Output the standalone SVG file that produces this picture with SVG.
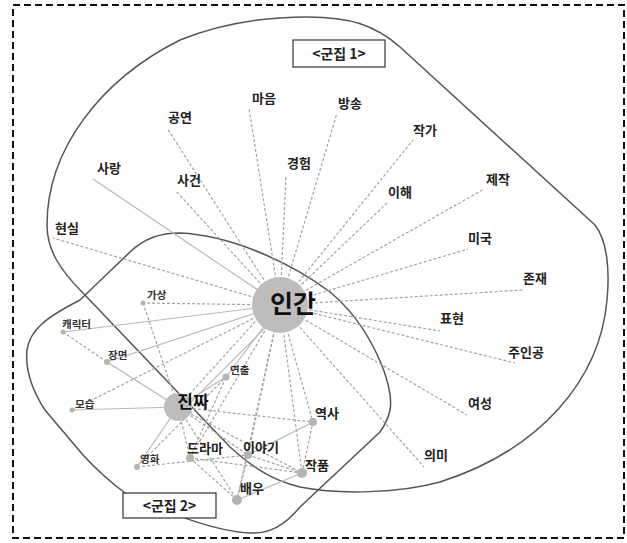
<svg xmlns="http://www.w3.org/2000/svg" width="627" height="543" viewBox="0 0 627 543">
<style>
text{font-family:"Noto Sans CJK KR","Noto Sans",sans-serif;fill:#222}
.lb{font-size:13px;font-weight:bold}
.sm{font-size:10.5px;font-weight:bold;fill:#333}
.md{font-size:13px;font-weight:bold}
.d{stroke:#a3a3a3;stroke-width:1.2;stroke-dasharray:3 2;fill:none}
.s{stroke:#b8b8b8;stroke-width:1.2;fill:none}
.dot{fill:#b4b4b4}
.hull{fill:none;stroke:#555;stroke-width:1.5}
.box{fill:#fff;stroke:#333;stroke-width:1.2}
</style>
<rect width="627" height="543" fill="#fff"/>
<rect x="13" y="5" width="611" height="533" fill="none" stroke="#111" stroke-width="2" stroke-dasharray="7 4"/>

<g id="hulls">
<path class="hull" d="M307,17 C350,17 375,25 400,47 L595,225 C607,240 610,270 607,300 C600,380 540,450 440,482 C400,493 340,495 300,487 C270,480 250,465 230,447 L83,293 C60,270 47,250 47,225 C47,150 100,80 180,40 C220,24 265,17 307,17 Z"/>
<path class="hull" d="M27,350 C30,330 45,318 80,300 L130,252 C145,238 160,233 180,233 C230,235 290,262 330,292 C370,325 395,385 390,410 C388,420 385,425 380,432 L300,507 C285,525 270,534 250,533 C220,532 170,515 125,493 C105,478 95,468 83,455 L45,410 C32,390 25,370 27,350 Z"/>
</g>

<g id="connectors">
<line class="d" x1="280" y1="305" x2="167" y2="128"/>
<line class="d" x1="280" y1="305" x2="249" y2="108"/>
<line class="d" x1="280" y1="305" x2="337" y2="113"/>
<line class="d" x1="280" y1="305" x2="413" y2="140"/>
<line class="d" x1="280" y1="305" x2="286" y2="175"/>
<line class="s" x1="280" y1="305" x2="93" y2="179"/>
<line class="d" x1="280" y1="305" x2="176" y2="191"/>
<line class="d" x1="280" y1="305" x2="387" y2="203"/>
<line class="d" x1="280" y1="305" x2="484" y2="189"/>
<line class="d" x1="280" y1="305" x2="53" y2="238"/>
<line class="d" x1="280" y1="305" x2="468" y2="249"/>
<line class="d" x1="280" y1="305" x2="523" y2="290"/>
<line class="d" x1="280" y1="305" x2="440" y2="331"/>
<line class="d" x1="280" y1="305" x2="515" y2="363"/>
<line class="d" x1="280" y1="305" x2="467" y2="415"/>
<line class="d" x1="280" y1="305" x2="424" y2="467"/>
<line class="d" x1="280" y1="305" x2="143" y2="303"/>
<line class="s" x1="280" y1="305" x2="63" y2="332"/>
<line class="s" x1="280" y1="305" x2="107" y2="362"/>
<line class="d" x1="280" y1="305" x2="72" y2="410"/>
<line class="s" x1="280" y1="305" x2="226" y2="377"/>
<line class="d" x1="272" y1="303" x2="178" y2="407"/>
<line class="s" x1="285" y1="308" x2="183" y2="410"/>
<line class="d" x1="280" y1="305" x2="190" y2="458"/>
<line class="d" x1="280" y1="305" x2="248" y2="455"/>
<line class="d" x1="280" y1="305" x2="237" y2="500"/>
<line class="d" x1="280" y1="305" x2="302" y2="473"/>
<line class="d" x1="280" y1="305" x2="313" y2="422"/>
<line class="d" x1="63" y1="332" x2="107" y2="362"/>
<line class="s" x1="107" y1="362" x2="178" y2="407"/>
<line class="s" x1="72" y1="410" x2="178" y2="407"/>
<line class="d" x1="143" y1="303" x2="178" y2="407"/>
<line class="s" x1="178" y1="407" x2="137" y2="467"/>
<line class="d" x1="178" y1="407" x2="190" y2="458"/>
<line class="d" x1="178" y1="407" x2="237" y2="500"/>
<line class="d" x1="178" y1="407" x2="248" y2="455"/>
<line class="d" x1="178" y1="407" x2="302" y2="473"/>
<line class="d" x1="178" y1="407" x2="313" y2="422"/>
<line class="s" x1="178" y1="407" x2="226" y2="377"/>
<line class="d" x1="137" y1="467" x2="248" y2="455"/>
<line class="d" x1="137" y1="467" x2="226" y2="377"/>
<line class="d" x1="190" y1="458" x2="226" y2="377"/>
<line class="d" x1="190" y1="458" x2="302" y2="473"/>
<line class="d" x1="190" y1="458" x2="237" y2="500"/>
<line class="d" x1="248" y1="455" x2="237" y2="500"/>
<line class="s" x1="248" y1="455" x2="313" y2="422"/>
<line class="d" x1="248" y1="455" x2="302" y2="473"/>
<line class="d" x1="302" y1="473" x2="313" y2="422"/>
<line class="s" x1="237" y1="500" x2="302" y2="473"/>
</g>

<g id="n-ingan"><circle cx="280" cy="305" r="28" fill="#bdbdbd"/><text x="293" y="313" text-anchor="middle" font-size="25" font-weight="bold" style="fill:#111">인간</text></g>
<g id="n-jinjja"><circle cx="178" cy="407" r="14" fill="#bdbdbd"/><text x="193" y="408" text-anchor="middle" font-size="17" font-weight="bold" style="fill:#111">진짜</text></g>

<g id="n-gongyeon"><text class="lb" x="168" y="122">공연</text></g>
<g id="n-maeum"><text class="lb" x="252" y="103">마음</text></g>
<g id="n-bangsong"><text class="lb" x="338" y="108">방송</text></g>
<g id="n-jakga"><text class="lb" x="413" y="135">작가</text></g>
<g id="n-gyeongheom"><text class="lb" x="287" y="168">경험</text></g>
<g id="n-sarang"><text class="lb" x="97" y="173">사랑</text></g>
<g id="n-sageon"><text class="lb" x="177" y="185">사건</text></g>
<g id="n-ihae"><text class="lb" x="388" y="197">이해</text></g>
<g id="n-jejak"><text class="lb" x="486" y="184">제작</text></g>
<g id="n-hyeonsil"><text class="lb" x="55" y="233">현실</text></g>
<g id="n-miguk"><text class="lb" x="468" y="243">미국</text></g>
<g id="n-jonjae"><text class="lb" x="523" y="283">존재</text></g>
<g id="n-pyohyeon"><text class="lb" x="440" y="323">표현</text></g>
<g id="n-juingong"><text class="lb" x="508" y="357">주인공</text></g>
<g id="n-yeoseong"><text class="lb" x="468" y="408">여성</text></g>
<g id="n-uimi"><text class="lb" x="424" y="460">의미</text></g>

<g id="n-gasang"><circle class="dot" cx="143" cy="303" r="2.5"/><text class="sm" x="147" y="299">가상</text></g>
<g id="n-character"><circle class="dot" cx="63" cy="332" r="2.5"/><text class="sm" x="62" y="328">캐릭터</text></g>
<g id="n-jangmyeon"><circle class="dot" cx="107" cy="362" r="3"/><text class="sm" x="108" y="359">장면</text></g>
<g id="n-moseup"><circle class="dot" cx="72" cy="410" r="2.5"/><text class="sm" x="75" y="408">모습</text></g>
<g id="n-yeonchul"><circle class="dot" cx="226" cy="377" r="3.5"/><text class="sm" x="230" y="374">연출</text></g>
<g id="n-yeoksa"><circle class="dot" cx="313" cy="422" r="4"/><text class="md" x="315" y="418">역사</text></g>
<g id="n-drama"><circle class="dot" cx="190" cy="458" r="4"/><text class="md" x="187" y="453">드라마</text></g>
<g id="n-iyagi"><circle class="dot" cx="248" cy="455" r="4"/><text class="md" x="243" y="452">이야기</text></g>
<g id="n-yeonghwa"><circle class="dot" cx="137" cy="467" r="3"/><text class="sm" x="140" y="463">영화</text></g>
<g id="n-jakpum"><circle class="dot" cx="302" cy="473" r="5"/><text class="md" x="305" y="470">작품</text></g>
<g id="n-baeu"><circle class="dot" cx="237" cy="500" r="5"/><text class="md" x="240" y="493">배우</text></g>

<g id="label-c1"><rect class="box" x="293" y="40" width="92" height="27"/><text x="339" y="59" text-anchor="middle" font-size="14" font-weight="bold">&lt;군집 1&gt;</text></g>
<g id="label-c2"><rect class="box" x="123" y="493" width="93" height="25"/><text x="169.5" y="511" text-anchor="middle" font-size="14" font-weight="bold">&lt;군집 2&gt;</text></g>
</svg>
